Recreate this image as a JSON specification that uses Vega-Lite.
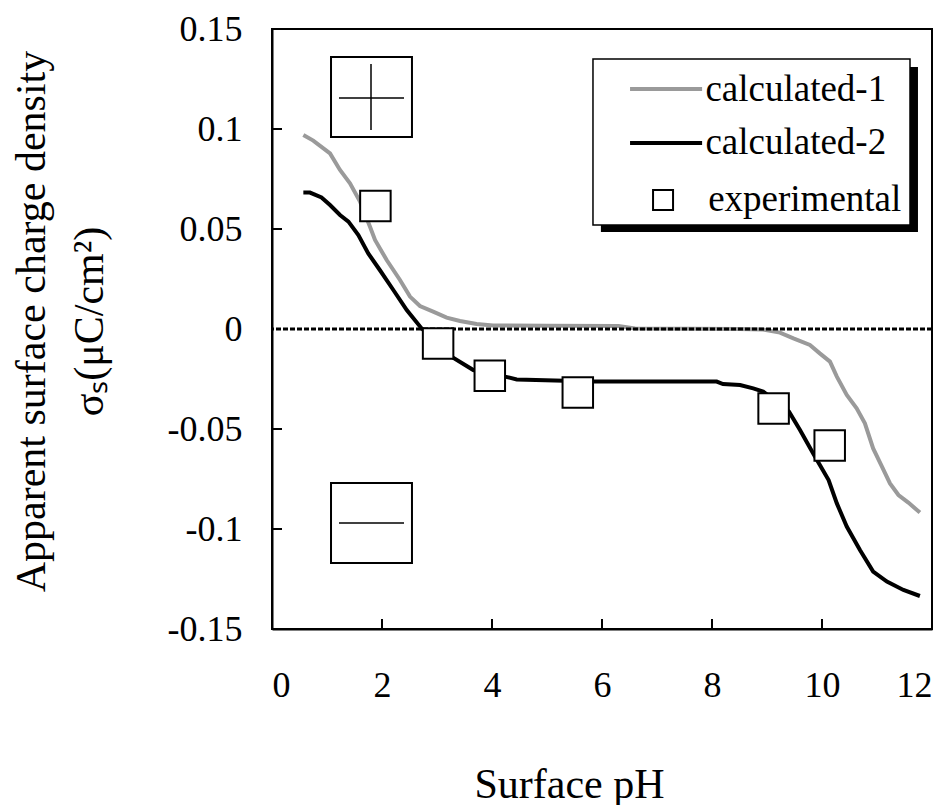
{
  "$schema": "https://vega.github.io/schema/vega-lite/v6.json",
  "width": 660,
  "height": 600,
  "autosize": {"type": "none"},
  "padding": {"left": 272, "top": 29, "right": 20, "bottom": 176},
  "background": "white",
  "config": {
    "view": {"stroke": "black", "strokeWidth": 2},
    "font": "Liberation Serif",
    "axis": {
      "grid": false,
      "domainColor": "black",
      "domainWidth": 2,
      "ticks": false,
      "tickSize": 0,
      "labelFont": "Liberation Serif",
      "labelFontSize": 36,
      "labelColor": "black",
      "titleFont": "Liberation Serif",
      "titleFontSize": 42,
      "titleFontWeight": "normal",
      "titleColor": "black"
    }
  },
  "datasets": {
    "curves": [
      {"series": "calculated-1", "pH": 0.57, "sigma": 0.097},
      {"series": "calculated-1", "pH": 0.75, "sigma": 0.0942},
      {"series": "calculated-1", "pH": 1.055, "sigma": 0.0878},
      {"series": "calculated-1", "pH": 1.236, "sigma": 0.0795},
      {"series": "calculated-1", "pH": 1.418, "sigma": 0.0728},
      {"series": "calculated-1", "pH": 1.6, "sigma": 0.0637},
      {"series": "calculated-1", "pH": 1.78, "sigma": 0.0512},
      {"series": "calculated-1", "pH": 1.873, "sigma": 0.0445},
      {"series": "calculated-1", "pH": 2.085, "sigma": 0.0345},
      {"series": "calculated-1", "pH": 2.327, "sigma": 0.0245},
      {"series": "calculated-1", "pH": 2.509, "sigma": 0.0162},
      {"series": "calculated-1", "pH": 2.69, "sigma": 0.0115},
      {"series": "calculated-1", "pH": 2.93, "sigma": 0.0087},
      {"series": "calculated-1", "pH": 3.176, "sigma": 0.0057},
      {"series": "calculated-1", "pH": 3.418, "sigma": 0.004},
      {"series": "calculated-1", "pH": 3.72, "sigma": 0.0025},
      {"series": "calculated-1", "pH": 4.02, "sigma": 0.0018},
      {"series": "calculated-1", "pH": 5.0, "sigma": 0.0016},
      {"series": "calculated-1", "pH": 6.3, "sigma": 0.0015},
      {"series": "calculated-1", "pH": 6.6, "sigma": 0.0003},
      {"series": "calculated-1", "pH": 8.5, "sigma": 0.0},
      {"series": "calculated-1", "pH": 8.93, "sigma": -0.0003},
      {"series": "calculated-1", "pH": 9.236, "sigma": -0.0018},
      {"series": "calculated-1", "pH": 9.48, "sigma": -0.0047},
      {"series": "calculated-1", "pH": 9.78, "sigma": -0.008},
      {"series": "calculated-1", "pH": 9.96, "sigma": -0.0122},
      {"series": "calculated-1", "pH": 10.145, "sigma": -0.0163},
      {"series": "calculated-1", "pH": 10.27, "sigma": -0.0238},
      {"series": "calculated-1", "pH": 10.45, "sigma": -0.033},
      {"series": "calculated-1", "pH": 10.63, "sigma": -0.0397},
      {"series": "calculated-1", "pH": 10.78, "sigma": -0.0472},
      {"series": "calculated-1", "pH": 10.93, "sigma": -0.0597},
      {"series": "calculated-1", "pH": 11.09, "sigma": -0.0688},
      {"series": "calculated-1", "pH": 11.236, "sigma": -0.0772},
      {"series": "calculated-1", "pH": 11.39, "sigma": -0.083},
      {"series": "calculated-1", "pH": 11.57, "sigma": -0.0868},
      {"series": "calculated-1", "pH": 11.78, "sigma": -0.0918},
      {"series": "calculated-2", "pH": 0.57, "sigma": 0.0682},
      {"series": "calculated-2", "pH": 0.69, "sigma": 0.0682},
      {"series": "calculated-2", "pH": 0.9, "sigma": 0.0658},
      {"series": "calculated-2", "pH": 1.055, "sigma": 0.062},
      {"series": "calculated-2", "pH": 1.236, "sigma": 0.057},
      {"series": "calculated-2", "pH": 1.39, "sigma": 0.0537},
      {"series": "calculated-2", "pH": 1.57, "sigma": 0.047},
      {"series": "calculated-2", "pH": 1.75, "sigma": 0.0378},
      {"series": "calculated-2", "pH": 1.96, "sigma": 0.0295},
      {"series": "calculated-2", "pH": 2.206, "sigma": 0.0195},
      {"series": "calculated-2", "pH": 2.45, "sigma": 0.0095},
      {"series": "calculated-2", "pH": 2.72, "sigma": 0.0003},
      {"series": "calculated-2", "pH": 3.02, "sigma": -0.007},
      {"series": "calculated-2", "pH": 3.285, "sigma": -0.0142},
      {"series": "calculated-2", "pH": 3.66, "sigma": -0.0205},
      {"series": "calculated-2", "pH": 4.236, "sigma": -0.0238},
      {"series": "calculated-2", "pH": 4.45, "sigma": -0.0252},
      {"series": "calculated-2", "pH": 5.84, "sigma": -0.0262},
      {"series": "calculated-2", "pH": 8.085, "sigma": -0.0263},
      {"series": "calculated-2", "pH": 8.2, "sigma": -0.0275},
      {"series": "calculated-2", "pH": 8.51, "sigma": -0.028},
      {"series": "calculated-2", "pH": 8.75, "sigma": -0.0297},
      {"series": "calculated-2", "pH": 8.93, "sigma": -0.0313},
      {"series": "calculated-2", "pH": 9.4, "sigma": -0.0413},
      {"series": "calculated-2", "pH": 9.6, "sigma": -0.0505},
      {"series": "calculated-2", "pH": 9.84, "sigma": -0.0622},
      {"series": "calculated-2", "pH": 10.12, "sigma": -0.0755},
      {"series": "calculated-2", "pH": 10.27, "sigma": -0.0872},
      {"series": "calculated-2", "pH": 10.45, "sigma": -0.0988},
      {"series": "calculated-2", "pH": 10.69, "sigma": -0.1105},
      {"series": "calculated-2", "pH": 10.93, "sigma": -0.1213},
      {"series": "calculated-2", "pH": 11.18, "sigma": -0.1263},
      {"series": "calculated-2", "pH": 11.48, "sigma": -0.1305},
      {"series": "calculated-2", "pH": 11.78, "sigma": -0.1335}
    ],
    "experimental": [
      {"pH": 1.88, "sigma": 0.0615},
      {"pH": 3.02, "sigma": -0.0072},
      {"pH": 3.96, "sigma": -0.0234},
      {"pH": 5.56, "sigma": -0.0317},
      {"pH": 9.12, "sigma": -0.0397},
      {"pH": 10.14, "sigma": -0.0582}
    ],
    "xticks": [{"v": 2}, {"v": 4}, {"v": 6}, {"v": 8}, {"v": 10}],
    "yticks": [{"v": -0.1}, {"v": -0.05}, {"v": 0.05}, {"v": 0.1}],
    "one": [{}]
  },
  "encoding": {
    "x": {
      "type": "quantitative",
      "scale": {"domain": [0, 12], "nice": false, "zero": false},
      "axis": {
        "title": "Surface pH",
        "values": [0, 2, 4, 6, 8, 10, 12],
        "labelPadding": 39,
        "titleX": 297,
        "titleY": 168,
        "titleBaseline": "alphabetic"
      }
    },
    "y": {
      "type": "quantitative",
      "scale": {"domain": [-0.15, 0.15], "nice": false, "zero": false},
      "axis": {
        "title": ["Apparent surface charge density", "σₛ(μC/cm²)"],
        "values": [-0.15, -0.1, -0.05, 0, 0.05, 0.1, 0.15],
        "labelExpr": "toString(datum.value)",
        "labelPadding": 30,
        "titleX": -228,
        "titleY": 292,
        "titleAngle": -90,
        "titleAlign": "center",
        "titleBaseline": "alphabetic",
        "titleLineHeight": 58
      }
    }
  },
  "layer": [
    {
      "data": {"name": "xticks"},
      "mark": {"type": "rule", "color": "black", "strokeWidth": 2},
      "encoding": {"x": {"field": "v", "type": "quantitative"}, "y": {"datum": -0.15}, "y2": {"datum": -0.145}}
    },
    {
      "data": {"name": "yticks"},
      "mark": {"type": "rule", "color": "black", "strokeWidth": 2},
      "encoding": {"y": {"field": "v", "type": "quantitative"}, "x": {"datum": 0}, "x2": {"datum": 0.182}}
    },
    {
      "data": {"name": "curves"},
      "mark": {"type": "line", "strokeWidth": 4, "interpolate": "linear"},
      "encoding": {
        "x": {"field": "pH", "type": "quantitative"},
        "y": {"field": "sigma", "type": "quantitative"},
        "color": {
          "field": "series",
          "type": "nominal",
          "scale": {"domain": ["calculated-1", "calculated-2"], "range": ["#9a9a9a", "#000000"]},
          "legend": null
        }
      }
    },
    {
      "data": {"name": "one"},
      "mark": {"type": "rule", "color": "black", "strokeWidth": 3, "strokeDash": [5, 2], "strokeCap": "butt"},
      "encoding": {"y": {"datum": 0}}
    },
    {
      "data": {"name": "experimental"},
      "mark": {"type": "point", "shape": "square", "size": 930, "filled": true, "fill": "white", "stroke": "black", "strokeWidth": 2, "opacity": 1},
      "encoding": {
        "x": {"field": "pH", "type": "quantitative"},
        "y": {"field": "sigma", "type": "quantitative"}
      }
    },
    {
      "data": {"name": "one"},
      "mark": {"type": "rect", "fill": "white", "stroke": "black", "strokeWidth": 2},
      "encoding": {"x": {"datum": 1.073}, "x2": {"datum": 2.545}, "y": {"datum": 0.136}, "y2": {"datum": 0.096}}
    },
    {
      "data": {"name": "one"},
      "mark": {"type": "rule", "color": "black", "strokeWidth": 1.5},
      "encoding": {"x": {"datum": 1.218}, "x2": {"datum": 2.4}, "y": {"datum": 0.1155}}
    },
    {
      "data": {"name": "one"},
      "mark": {"type": "rule", "color": "black", "strokeWidth": 1.5},
      "encoding": {"x": {"datum": 1.80}, "y": {"datum": 0.1325}, "y2": {"datum": 0.0995}}
    },
    {
      "data": {"name": "one"},
      "mark": {"type": "rect", "fill": "white", "stroke": "black", "strokeWidth": 2},
      "encoding": {"x": {"datum": 1.073}, "x2": {"datum": 2.545}, "y": {"datum": -0.077}, "y2": {"datum": -0.117}}
    },
    {
      "data": {"name": "one"},
      "mark": {"type": "rule", "color": "black", "strokeWidth": 1.5},
      "encoding": {"x": {"datum": 1.218}, "x2": {"datum": 2.4}, "y": {"datum": -0.097}}
    },
    {
      "data": {"name": "one"},
      "mark": {"type": "rect", "fill": "black"},
      "encoding": {"x": {"datum": 5.98}, "x2": {"datum": 11.745}, "y": {"datum": 0.131}, "y2": {"datum": 0.0485}}
    },
    {
      "data": {"name": "one"},
      "mark": {"type": "rect", "fill": "white", "stroke": "black", "strokeWidth": 1.5},
      "encoding": {"x": {"datum": 5.836}, "x2": {"datum": 11.6}, "y": {"datum": 0.135}, "y2": {"datum": 0.052}}
    },
    {
      "data": {"name": "one"},
      "mark": {"type": "rule", "color": "#9a9a9a", "strokeWidth": 4},
      "encoding": {"x": {"datum": 6.51}, "x2": {"datum": 7.82}, "y": {"datum": 0.12}}
    },
    {
      "data": {"name": "one"},
      "mark": {"type": "rule", "color": "black", "strokeWidth": 4},
      "encoding": {"x": {"datum": 6.51}, "x2": {"datum": 7.82}, "y": {"datum": 0.093}}
    },
    {
      "data": {"name": "one"},
      "mark": {"type": "point", "shape": "square", "size": 400, "filled": true, "fill": "white", "stroke": "black", "strokeWidth": 2, "opacity": 1},
      "encoding": {"x": {"datum": 7.11}, "y": {"datum": 0.0645}}
    },
    {
      "data": {"name": "one"},
      "mark": {"type": "text", "text": "calculated-1", "align": "left", "baseline": "middle", "fontSize": 37, "font": "Liberation Serif", "color": "black"},
      "encoding": {"x": {"datum": 7.88}, "y": {"datum": 0.1195}}
    },
    {
      "data": {"name": "one"},
      "mark": {"type": "text", "text": "calculated-2", "align": "left", "baseline": "middle", "fontSize": 37, "font": "Liberation Serif", "color": "black"},
      "encoding": {"x": {"datum": 7.88}, "y": {"datum": 0.093}}
    },
    {
      "data": {"name": "one"},
      "mark": {"type": "text", "text": "experimental", "align": "left", "baseline": "middle", "fontSize": 37, "font": "Liberation Serif", "color": "black"},
      "encoding": {"x": {"datum": 7.93}, "y": {"datum": 0.0645}}
    }
  ]
}
